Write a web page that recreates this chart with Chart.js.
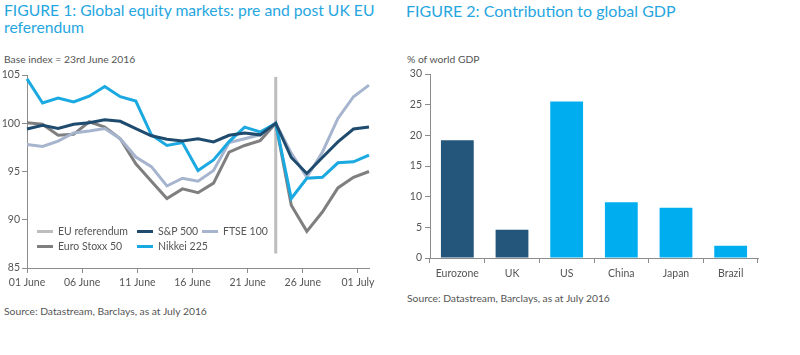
<!DOCTYPE html>
<html><head><meta charset="utf-8">
<script src="https://cdn.jsdelivr.net/npm/chart.js@4"></script>
<style>
body{margin:0;width:800px;height:355px;background:#fff;font-family:Lato,"Open Sans",sans-serif;position:relative;overflow:hidden}
.t{position:absolute;white-space:nowrap}
.title{color:#26a6df;font-size:16px;line-height:17px}
.sub{color:#555;font-size:10.3px;line-height:13px}
#c1{position:absolute;left:0;top:60px}
#c2{position:absolute;left:395px;top:60px}
.lg{position:absolute;display:flex;align-items:center;font-size:10.5px;line-height:13px;color:#555;white-space:nowrap}
.lg i{display:inline-block;width:16px;height:3px;margin-right:5px}
</style></head><body>
<div class="t title" style="left:4px;top:2px;font-size:15.7px">FIGURE 1: Global equity markets: pre and post UK EU<br>referendum</div>
<div class="t sub" style="left:4px;top:53px">Base index = 23rd June 2016</div>
<div class="t sub" style="left:4px;top:305px">Source: Datastream, Barclays, as at July 2016</div>
<div class="t title" style="left:406px;top:2px">FIGURE 2: Contribution to global GDP</div>
<div class="t sub" style="left:407px;top:53px">% of world GDP</div>
<div class="t sub" style="left:407px;top:292px">Source: Datastream, Barclays, as at July 2016</div>
<canvas id="c1" width="390" height="240"></canvas>
<canvas id="c2" width="405" height="240"></canvas>
<div id="legend"></div>
<script>
// ---- Figure 1 data ----
const tradingDays = ['01 Jun','02 Jun','03 Jun','06 Jun','07 Jun','08 Jun','09 Jun','10 Jun','13 Jun','14 Jun','15 Jun','16 Jun','17 Jun','20 Jun','21 Jun','22 Jun','23 Jun','24 Jun','27 Jun','28 Jun','29 Jun','30 Jun','01 Jul'];
const sp500     = [99.4, 99.8, 99.45, 99.9, 100.05, 100.35, 100.2, 99.45, 98.7, 98.35, 98.15, 98.4, 98.07, 98.75, 99.0, 98.8, 100, 96.45, 94.8, 96.45, 98.07, 99.4, 99.6];
const ftse100   = [97.8, 97.6, 98.15, 99.0, 99.2, 99.45, 98.4, 96.5, 95.5, 93.5, 94.3, 94.0, 95.1, 98.0, 98.4, 98.8, 100, 96.9, 94.4, 97.0, 100.5, 102.75, 103.95];
const euroStoxx = [100.05, 99.9, 98.75, 98.85, 100.15, 99.6, 98.4, 95.8, 94.0, 92.2, 93.2, 92.8, 93.8, 97.0, 97.7, 98.2, 100, 91.5, 88.8, 90.8, 93.3, 94.4, 95.0];
const nikkei    = [104.6, 102.1, 102.6, 102.2, 102.8, 103.8, 102.75, 102.3, 98.8, 97.7, 98.0, 95.1, 96.2, 98.1, 99.6, 99.1, 100, 92.2, 94.3, 94.4, 95.9, 96.0, 96.7];
const referendumDay = '23 Jun';
const referendumSpan = [86.5, 104.8];
const xTickLabels = ['01 June','06 June','11 June','16 June','21 June','26 June','01 July'];
const xTickCalendarDays = [0, 5, 10, 15, 20, 25, 30];
const calendarSpan = 31;
const yTicks1 = [85, 90, 95, 100, 105];

// ---- Figure 2 data ----
const regions = ['Eurozone','UK','US','China','Japan','Brazil'];
const gdpShare = [19.2, 4.6, 25.5, 9.1, 8.2, 2.0];
const yTicks2 = [0, 5, 10, 15, 20, 25, 30];

const AX = '#8c8c8c', TXT = '#555';
const FONT = {family:'Lato, "Open Sans", sans-serif', size:10.5};
const toPts = arr => arr.map((v,i)=>({x:i,y:v}));
const refIdx = tradingDays.indexOf(referendumDay);
const lastIdx = tradingDays.length - 1;

const series = [
  {label:'EU referendum', color:'#bdbdbd', data: referendumSpan.map(v=>({x:refIdx,y:v})), order:5},
  {label:'S&P 500', color:'#1f4b6e', data: toPts(sp500), order:1},
  {label:'FTSE 100', color:'#a6b5cd', data: toPts(ftse100), order:3},
  {label:'Euro Stoxx 50', color:'#7f7f7f', data: toPts(euroStoxx), order:4},
  {label:'Nikkei 225', color:'#1aa9e1', data: toPts(nikkei), order:2}
];

new Chart(document.getElementById('c1'), {
  type:'line',
  data:{datasets: series.map(s=>({label:s.label, data:s.data, borderColor:s.color, backgroundColor:s.color,
        borderWidth:3, pointRadius:0, tension:0, fill:false, order:s.order, clip:false}))},
  options:{
    responsive:false, animation:false, devicePixelRatio:1,
    layout:{padding:{top:15,right:21,bottom:0,left:0}},
    plugins:{legend:{display:false}, tooltip:{enabled:false}},
    scales:{
      x:{type:'linear', min:0, max:lastIdx,
        afterBuildTicks: s => { s.ticks = xTickCalendarDays.map(d=>({value: d*lastIdx/calendarSpan})); },
        afterFit: s => { s.height = 32; },
        ticks:{autoSkip:false, maxRotation:0, color:TXT, font:FONT, padding:3,
          callback:(v,i)=>xTickLabels[i]},
        grid:{drawOnChartArea:false, drawTicks:true, tickLength:5, color:AX},
        border:{display:true, color:AX, width:1}
      },
      y:{min:yTicks1[0], max:yTicks1[yTicks1.length-1],
        afterBuildTicks: s => { s.ticks = yTicks1.map(v=>({value:v})); },
        afterFit: s => { s.width = 27; },
        ticks:{color:TXT, font:FONT, padding:2},
        grid:{drawOnChartArea:false, drawTicks:true, tickLength:5, color:AX},
        border:{display:true, color:AX, width:1}
      }
    }
  }
});

// HTML legend built from dataset labels
const legendPos = [[37,225],[137,225],[202,225],[37,240],[137,240]];
const lg = document.getElementById('legend');
series.forEach((s,i)=>{
  const d = document.createElement('div');
  d.className='lg';
  d.style.left = legendPos[i][0]+'px';
  d.style.top = legendPos[i][1]+'px';
  const sw = document.createElement('i'); sw.style.background = s.color;
  d.appendChild(sw);
  d.appendChild(document.createTextNode(s.label));
  lg.appendChild(d);
});

const barColors = ['#23567a','#23567a','#00aeef','#00aeef','#00aeef','#00aeef'];
new Chart(document.getElementById('c2'), {
  type:'bar',
  data:{labels:regions, datasets:[{data:gdpShare, backgroundColor:barColors, borderWidth:0,
        barPercentage:0.6, categoryPercentage:1}]},
  options:{
    responsive:false, animation:false, devicePixelRatio:1,
    layout:{padding:{top:14,right:42,bottom:0,left:0}},
    plugins:{legend:{display:false}, tooltip:{enabled:false}},
    scales:{
      x:{afterFit: s => { s.height = 42; },
        ticks:{color:TXT, font:FONT, padding:4, maxRotation:0},
        grid:{offset:true, drawOnChartArea:false, drawTicks:true, tickLength:5, color:AX},
        border:{display:true, color:AX, width:1}
      },
      y:{min:yTicks2[0], max:yTicks2[yTicks2.length-1],
        afterBuildTicks: s => { s.ticks = yTicks2.map(v=>({value:v})); },
        afterFit: s => { s.width = 35; },
        ticks:{color:TXT, font:FONT, padding:3},
        grid:{drawOnChartArea:false, drawTicks:true, tickLength:5, color:AX},
        border:{display:true, color:AX, width:1}
      }
    }
  }
});
</script>
</body></html>
